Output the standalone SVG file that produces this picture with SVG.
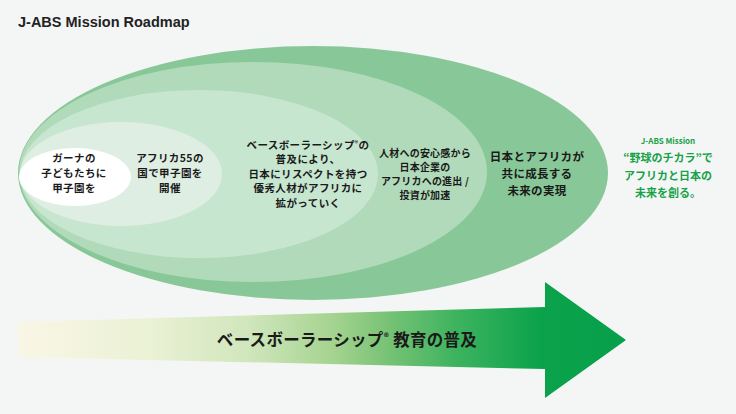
<svg xmlns="http://www.w3.org/2000/svg" width="736" height="414" viewBox="0 0 736 414">
  <style>
    .jp { font-family: "Noto Sans CJK JP", "Noto Sans", sans-serif; font-weight: 700; fill: #1a1a1a; text-anchor: middle; }
    .s105 { font-size: 10.5px; letter-spacing: 0.4px; }
    .s10 { font-size: 10px; letter-spacing: 0.2px; }
    .s115 { font-size: 11.5px; letter-spacing: 0.3px; }
    .mission { font-family: "Noto Sans CJK JP", "Noto Sans", sans-serif; font-weight: 700; fill: #17a14a; text-anchor: middle; }
    .title { font-family: "Liberation Sans", Arial, sans-serif; font-weight: 700; font-size: 14.5px; fill: #222; }
  </style>
  <defs>
    <linearGradient id="arrowGrad" gradientUnits="userSpaceOnUse" x1="18" y1="0" x2="626" y2="0">
      <stop offset="0" stop-color="#faf6e6"/>
      <stop offset="0.22" stop-color="#eaf1d4"/>
      <stop offset="0.38" stop-color="#d0e6bc"/>
      <stop offset="0.52" stop-color="#a4d38f"/>
      <stop offset="0.6" stop-color="#7cc477"/>
      <stop offset="0.72" stop-color="#3db35f"/>
      <stop offset="0.86" stop-color="#0ba24b"/>
      <stop offset="1" stop-color="#07a04a"/>
    </linearGradient>
  </defs>
  <rect x="0" y="0" width="736" height="414" fill="#f4f6f5"/>
  <text class="title" x="18" y="27">J-ABS Mission Roadmap</text>

  <g id="layer5-future">
    <ellipse cx="313" cy="173" rx="295" ry="127" fill="#88c898"/>
    <text class="jp s115" x="537" y="161">日本とアフリカが</text>
    <text class="jp s115" x="537" y="178">共に成長する</text>
    <text class="jp s115" x="537" y="195">未来の実現</text>
  </g>

  <g id="layer4-investment">
    <ellipse cx="253" cy="172" rx="234" ry="110" fill="#b0dab9"/>
    <text class="jp s10" x="425" y="156.5">人材への安心感から</text>
    <text class="jp s10" x="425" y="170.5">日本企業の</text>
    <text class="jp s10" x="425" y="184.5">アフリカへの進出 /</text>
    <text class="jp s10" x="425" y="198.5">投資が加速</text>
  </g>

  <g id="layer3-talent">
    <ellipse cx="199" cy="174" rx="179" ry="84" fill="#c7e6cf"/>
    <text class="jp s105" x="308" y="148.5">ベースボーラーシップ<tspan font-size="6.5" dy="-3">®</tspan><tspan dy="3">の</tspan></text>
    <text class="jp s105" x="308" y="163">普及により、</text>
    <text class="jp s105" x="308" y="177.5">日本にリスペクトを持つ</text>
    <text class="jp s105" x="308" y="192">優秀人材がアフリカに</text>
    <text class="jp s105" x="308" y="206.5">拡がっていく</text>
  </g>

  <g id="layer2-africa55">
    <ellipse cx="121" cy="174" rx="101" ry="52" fill="#dfeee2"/>
    <text class="jp s105" x="170" y="162">アフリカ55の</text>
    <text class="jp s105" x="170" y="177">国で甲子園を</text>
    <text class="jp s105" x="170" y="192">開催</text>
  </g>

  <g id="layer1-ghana">
    <ellipse cx="75" cy="177" rx="56" ry="29" fill="#ffffff"/>
    <text class="jp s105" x="74" y="162">ガーナの</text>
    <text class="jp s105" x="74" y="177">子どもたちに</text>
    <text class="jp s105" x="74" y="192">甲子園を</text>
  </g>

  <g id="mission">
    <text class="mission" x="668" y="143.5" font-size="8">J-ABS Mission</text>
    <text class="mission" x="668" y="161.5" font-size="11">“野球のチカラ”で</text>
    <text class="mission" x="668" y="179.5" font-size="11">アフリカと日本の</text>
    <text class="mission" x="668" y="196.5" font-size="11">未来を創る。</text>
  </g>

  <g id="connectors">
    <path d="M18,322 L545,307 L545,282 L626,340 L545,398 L545,369 L18,357 Z" fill="url(#arrowGrad)"/>
    <text class="jp" x="347" y="346" font-size="16.5" style="letter-spacing:0.3px">ベースボーラーシップ<tspan font-size="10" dy="-5">®</tspan><tspan dy="5"> 教育の普及</tspan></text>
  </g>
</svg>
